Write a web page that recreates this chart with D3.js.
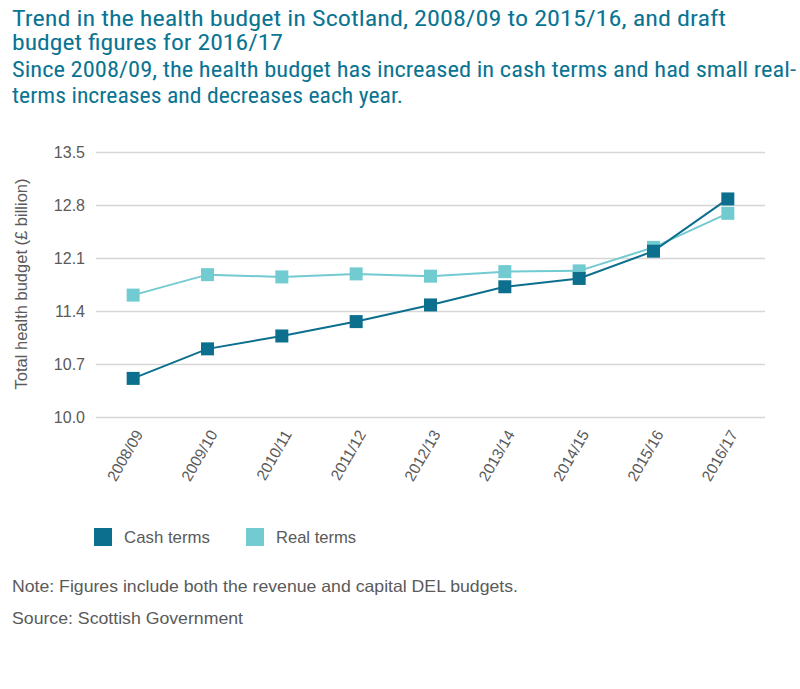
<!DOCTYPE html>
<html><head><meta charset="utf-8">
<script src="https://cdn.jsdelivr.net/npm/d3@7"></script>
<style>body{margin:0;background:#fff}</style>
</head><body>
<script>
const categories = ["2008/09","2009/10","2010/11","2011/12","2012/13","2013/14","2014/15","2015/16","2016/17"];
const cashTerms = [10.51,10.90,11.07,11.26,11.48,11.72,11.83,12.19,12.88];
const realTerms = [11.61,11.88,11.85,11.89,11.86,11.92,11.93,12.24,12.69];
const yTicks = [10.0,10.7,11.4,12.1,12.8,13.5];
const seriesNames = ["Cash terms","Real terms"];
const colors = ["#0b6f8d","#72cbd1"];

const W=800,H=689;
const svg=d3.select("body").append("svg").attr("width",W).attr("height",H);
const font="'Liberation Sans Narrow','Roboto Condensed','Liberation Sans',Arial,sans-serif";
const bodyFont="'Liberation Sans',Arial,sans-serif";
const titleColor="#0a7493";
const grey="#5a5a5a";

function txt(t,x,y,size,fill,fam,len,weight){
  const e=svg.append("text").attr("x",x).attr("y",y).attr("font-family",fam).attr("font-size",size).attr("fill",fill).text(t);
  if(weight) e.attr("font-weight",weight);
  if(len) e.attr("textLength",len).attr("lengthAdjust","spacingAndGlyphs");
  return e;
}
txt("Trend in the health budget in Scotland, 2008/09 to 2015/16, and draft",12,26,22.5,titleColor,font,714);
txt("budget figures for 2016/17",12,50,22.5,titleColor,font,271);
txt("Since 2008/09, the health budget has increased in cash terms and had small real-",12,77,22,titleColor,font,784);
txt("terms increases and decreases each year.",12,103,22,titleColor,font,391);

const x=d3.scalePoint().domain(categories).range([96,765]).padding(0.5);
const y=d3.scaleLinear().domain([10,13.5]).range([417,152]);

const gy=svg.append("g").attr("transform","translate(96,0)")
  .call(d3.axisLeft(y).tickValues(yTicks).tickFormat(d3.format(".1f")).tickSize(-669).tickPadding(11));
gy.select(".domain").remove();
gy.selectAll(".tick line").attr("stroke","#d6d6d6").attr("stroke-width",1.5);
gy.selectAll(".tick text").attr("font-family",bodyFont).attr("font-size",16).attr("fill",grey).attr("dy","0.36em");

const gx=svg.append("g").attr("transform","translate(0,417)")
  .call(d3.axisBottom(x).tickSize(0).tickPadding(0));
gx.select(".domain").remove();
gx.selectAll(".tick text").attr("font-family",bodyFont).attr("font-size",15.5).attr("fill",grey)
  .attr("text-anchor","end").attr("dy",0).attr("x",0).attr("y",0).attr("transform","translate(10,17) rotate(-60)");

svg.append("text").attr("transform","translate(27,284) rotate(-90)").attr("text-anchor","middle")
  .attr("font-family",bodyFont).attr("font-size",16.5).attr("fill",grey).text("Total health budget (£ billion)");

const series=[cashTerms,realTerms];
const line=d3.line().x((d,i)=>x(categories[i])).y(d=>y(d));
[1,0].forEach(s=>{
  svg.append("path").datum(series[s]).attr("d",line).attr("fill","none").attr("stroke",colors[s]).attr("stroke-width",2);
  svg.append("g").selectAll("rect").data(series[s]).join("rect")
    .attr("x",(d,i)=>x(categories[i])-6.5).attr("y",d=>y(d)-6.5).attr("width",13).attr("height",13).attr("fill",colors[s]);
});

const lx=[94,246],lw=[86,80];
seriesNames.forEach((n,i)=>{
  svg.append("rect").attr("x",lx[i]).attr("y",528).attr("width",18).attr("height",18).attr("fill",colors[i]);
  txt(n,lx[i]+30,543,17,grey,bodyFont,lw[i]);
});

txt("Note: Figures include both the revenue and capital DEL budgets.",12,592,16.5,grey,bodyFont,506);
txt("Source: Scottish Government",12,624,16.5,grey,bodyFont,231);
</script>
</body></html>
